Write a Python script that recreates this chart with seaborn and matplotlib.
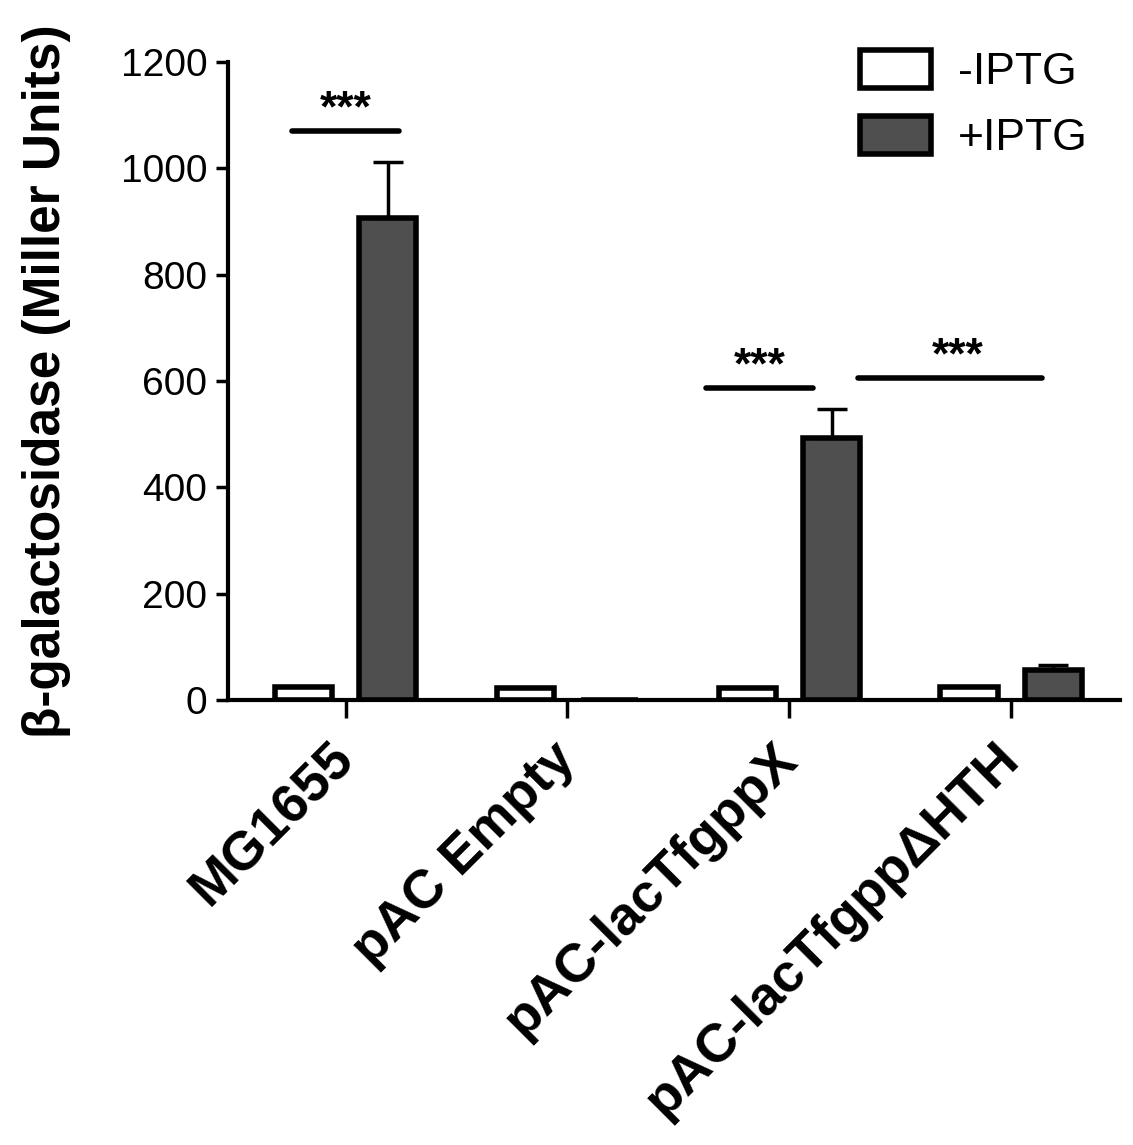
import matplotlib
matplotlib.use("Agg")
import matplotlib.pyplot as plt
import numpy as np
import pandas as pd
import seaborn as sns

strains = ["MG1655", "pAC Empty", "pAC-lacTfgppX", "pAC-lacTfgppΔHTH"]
conditions = ["-IPTG", "+IPTG"]
minus_iptg = [24, 22, 22, 25]
plus_iptg = [906, 0, 493, 56]
plus_iptg_err = [106, 0, 54, 10]
y_ticks = [0, 200, 400, 600, 800, 1000, 1200]

# significance brackets: (x start, x end, height)
sig_x0 = [-0.24, 1.625, 2.308]
sig_x1 = [0.24, 2.106, 3.139]
sig_y = [1070, 586, 605]
sig_text = ["***", "***", "***"]

sns.set_style("ticks")
plt.rcParams["font.family"] = ["Liberation Sans", "DejaVu Sans"]
plt.rcParams["text.color"] = "black"
plt.rcParams["axes.edgecolor"] = "black"
plt.rcParams["axes.labelcolor"] = "black"
plt.rcParams["xtick.color"] = "black"
plt.rcParams["ytick.color"] = "black"

df = pd.DataFrame({
    "strain": strains * 2,
    "condition": [conditions[0]] * len(strains) + [conditions[1]] * len(strains),
    "activity": minus_iptg + plus_iptg,
})

fig = plt.figure(figsize=(11.33, 11.45), dpi=100)
ax = fig.add_axes([228 / 1133, 1 - 700 / 1145, (1120 - 228) / 1133, (700 - 62) / 1145])

sns.barplot(
    data=df, x="strain", y="activity", hue="condition",
    order=strains, hue_order=conditions,
    palette={"-IPTG": "white", "+IPTG": "#4f4f4f"},
    width=0.76, gap=0.32, saturation=1,
    edgecolor="black", linewidth=4, errorbar=None, ax=ax,
)

# upper error bars on the +IPTG bars
bars = ax.containers[1]
xs = [b.get_x() + b.get_width() / 2 for b in bars]
err = np.array(plus_iptg_err, dtype=float)
mask = err > 0
ax.errorbar(
    np.array(xs)[mask], np.array(plus_iptg)[mask],
    yerr=[np.zeros(mask.sum()), err[mask]],
    fmt="none", ecolor="black", elinewidth=2.5, capsize=11, capthick=2.5, zorder=1,
)

for x0, x1, y, t in zip(sig_x0, sig_x1, sig_y, sig_text):
    ax.plot([x0, x1], [y, y], color="black", lw=4, solid_capstyle="round")
    ax.text((x0 + x1) / 2 if x1 - x0 < 0.6 else x0 + (x1 - x0) * 0.54, y + 18, t,
            ha="center", va="baseline", fontsize=32, fontweight="bold")

ax.set_ylim(0, 1200)
ax.set_xlim(-0.53, 3.49)
ax.set_yticks(y_ticks)
ax.set_yticklabels([str(v) for v in y_ticks], fontsize=28)
ax.set_xticks(range(len(strains)))
ax.set_xticklabels(strains, rotation=45, ha="right", rotation_mode="anchor",
                   fontsize=39, fontweight="bold", va="center")
ax.set_xlabel("")
ax.set_ylabel("β-galactosidase (Miller Units)", fontsize=37, fontweight="bold", labelpad=36)

sns.despine(ax=ax)
for side in ["left", "bottom"]:
    ax.spines[side].set_linewidth(3)
ax.tick_params(axis="y", length=9, width=2.5, pad=6)
ax.tick_params(axis="x", length=13, width=2.5, pad=24)

leg = ax.get_legend()
handles = leg.legend_handles
labels = [t.get_text() for t in leg.texts]
for h in handles:
    h.set_edgecolor("black")
    h.set_linewidth(4)
ax.legend(handles, labels, frameon=False, fontsize=32, loc="upper left",
          bbox_to_anchor=(860 / 1133, 1 - 50 / 1145), bbox_transform=fig.transFigure,
          handlelength=1.6, handleheight=0.95, handletextpad=0.6, labelspacing=0.5,
          borderaxespad=0, borderpad=0)

fig.savefig("out.png", dpi=100)
